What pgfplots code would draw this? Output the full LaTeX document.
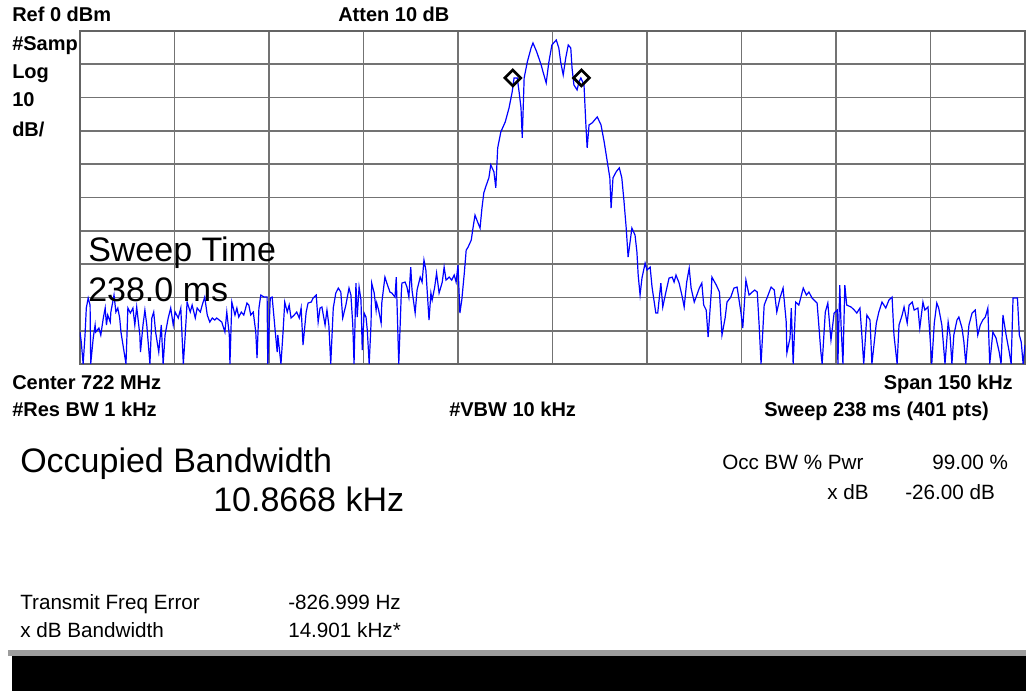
\documentclass[border=0pt]{standalone}
\usepackage{fontspec}
\setmainfont{Liberation Sans}
\usepackage{pgfplots}
\pgfplotsset{compat=1.18}
\definecolor{trace}{RGB}{0,0,255}
\definecolor{gridc}{RGB}{115,115,115}
\definecolor{framec}{RGB}{100,100,100}
\newcommand{\hbtxt}{\fontsize{15pt}{18pt}\selectfont\bfseries}
\newcommand{\smtxt}{\fontsize{15.5pt}{18pt}\selectfont}
\newcommand{\lgtxt}{\fontsize{25.5pt}{30pt}\selectfont}
\begin{document}
\begin{tikzpicture}
\useasboundingbox (0,0) rectangle (769.5pt,519.75pt);
\fill[white] (0,0) rectangle (769.5pt,519.75pt);
\begin{axis}[
  at={(60pt,246.75pt)}, anchor=south west,
  scale only axis, width=708.75pt, height=249.75pt,
  xmin=-75, xmax=75, ymin=-100, ymax=0,
  xtick={-75,-60,...,75}, ytick={-100,-90,...,0},
  xticklabels={}, yticklabels={},
  tick label style={opacity=0},
  major tick length=0pt,
  grid=major,
  grid style={line width=1.3pt, color=gridc},
  axis line style={line width=1.9pt, color=framec},
]
\addplot[trace, line width=0.9pt] coordinates {
(-75.0,-90.4) (-74.8,-93.4) (-74.5,-100) (-74.2,-91.3) (-74.0,-83.2) (-73.7,-80.2) (-73.4,-82.3) (-73.3,-100)
(-72.9,-92.2) (-72.6,-88.3) (-72.5,-90.4) (-72.0,-89.2) (-71.7,-91.3) (-71.3,-86.2) (-71.0,-83.2) (-70.8,-88.3)
(-70.6,-85.3) (-70.2,-87.4) (-70.1,-84.4) (-69.6,-79.3) (-69.3,-84.4) (-69.0,-83.2) (-68.7,-86.2) (-68.5,-90.4)
(-68.1,-95.2) (-67.7,-100) (-67.4,-83.2) (-67.0,-84.7) (-66.6,-83.2) (-66.3,-88.3) (-66.0,-82.9) (-65.5,-91.3)
(-65.4,-96.4) (-65.0,-88.3) (-64.7,-83.8) (-64.4,-88.3) (-63.9,-100) (-63.6,-86.2) (-63.3,-84.4) (-63.0,-90.4)
(-62.5,-96.4) (-62.1,-88.3) (-61.8,-100) (-61.5,-91.3) (-61.0,-86.2) (-60.6,-83.2) (-60.2,-88.3) (-59.9,-84.4)
(-59.4,-86.2) (-59.0,-83.2) (-58.6,-100) (-58.3,-91.3) (-58.0,-81.4) (-57.5,-84.4) (-57.2,-82.3) (-56.7,-86.2)
(-56.4,-83.2) (-55.9,-84.4) (-55.6,-82.3) (-55.2,-79.9) (-54.8,-85.3) (-54.4,-87.4) (-54.0,-86.2) (-53.6,-86.8)
(-53.3,-86.2) (-52.9,-86.8) (-52.5,-87.4) (-52.0,-90.4) (-51.7,-84.4) (-51.3,-91.3) (-51.2,-100) (-50.9,-81.4)
(-50.4,-85.3) (-50.1,-83.2) (-49.8,-85.9) (-49.4,-84.4) (-49.0,-85.3) (-48.5,-81.7) (-48.2,-82.3) (-47.9,-85.3)
(-47.5,-84.4) (-47.1,-90.4) (-46.9,-98.2) (-46.6,-83.2) (-46.3,-79.3) (-45.8,-79.9) (-45.3,-79.9) (-45.2,-100)
(-44.8,-80.2) (-44.5,-79.9) (-44.0,-90.4) (-43.7,-96.4) (-43.6,-91.3) (-43.1,-100) (-42.8,-91.3) (-42.5,-81.4)
(-42.1,-84.4) (-41.8,-82.3) (-41.5,-86.2) (-41.0,-85.3) (-40.6,-84.4) (-40.2,-86.2) (-39.9,-83.2) (-39.6,-94.3)
(-39.1,-84.4) (-38.8,-81.7) (-38.3,-81.4) (-38.0,-80.2) (-37.5,-79.3) (-37.2,-87.4) (-36.9,-83.2) (-36.6,-82.9)
(-36.1,-88.3) (-35.8,-83.8) (-35.5,-88.3) (-35.2,-100) (-34.8,-83.2) (-34.4,-78.7) (-34.0,-77.2) (-33.6,-78.4)
(-33.3,-86.2) (-32.8,-82.3) (-32.3,-77.2) (-32.0,-79.3) (-31.7,-88.3) (-31.5,-100) (-31.2,-75.7) (-31.0,-85.9)
(-30.7,-76.9) (-30.4,-80.8) (-30.2,-95.8) (-29.9,-84.7) (-29.6,-85.9) (-29.4,-89.8) (-29.1,-100) (-28.8,-87.7)
(-28.7,-75.7) (-28.3,-78.7) (-28.0,-83.8) (-27.9,-81.7) (-27.6,-83.8) (-27.2,-87.7) (-27.1,-81.7) (-26.6,-73.9)
(-26.3,-75.7) (-25.8,-78.4) (-25.5,-78.7) (-25.0,-79.9) (-24.8,-73.9) (-24.5,-93.7) (-24.4,-100) (-24.0,-78.7)
(-23.9,-75.7) (-23.4,-75.4) (-23.1,-76.9) (-22.8,-79.9) (-22.5,-70.9) (-22.3,-77.8) (-21.8,-84.7) (-21.5,-77.8)
(-21.0,-73.9) (-20.7,-75.4) (-20.4,-68.8) (-20.1,-71.8) (-19.6,-86.8) (-19.3,-78.7) (-19.1,-80.8) (-18.7,-76.9)
(-18.4,-72.7) (-18.0,-78.7) (-17.5,-75.4) (-17.2,-70.9) (-16.9,-74.8) (-16.4,-73.9) (-16.0,-74.8) (-15.6,-73.3)
(-15.3,-75.4) (-15.0,-70.3) (-14.7,-84.7) (-14.4,-80.8) (-14.0,-72.7) (-13.7,-65.8) (-13.4,-64.9) (-12.9,-62.8)
(-12.6,-58.9) (-12.3,-55.3) (-12.0,-56.8) (-11.5,-59.2) (-11.2,-53.2) (-10.9,-48.6) (-10.6,-46.8) (-10.1,-44.1)
(-9.8,-40.2) (-9.3,-42.3) (-9.0,-47.1) (-8.7,-35.1) (-8.2,-30.3) (-7.5,-27.3) (-6.9,-23.1) (-6.4,-18.3)
(-6.1,-14.1) (-5.6,-14.1) (-5.3,-18.3) (-5.0,-23.1) (-4.8,-32.1) (-4.5,-14.1) (-4.0,-9.3) (-3.4,-5.1)
(-3.1,-3.6) (-2.5,-6.3) (-1.8,-10.2) (-1.5,-12.3) (-1.0,-15.6) (-0.6,-9.6) (-0.1,-4.2) (0.6,-2.7)
(1.0,-5.1) (1.3,-9.3) (1.7,-13.2) (2.1,-8.1) (2.5,-4.2) (2.9,-5.1) (3.1,-11.1) (3.4,-16.2)
(3.9,-17.7) (4.2,-15.3) (4.5,-14.1) (5.0,-16.2) (5.3,-28.2) (5.5,-35.1) (5.8,-28.2) (6.3,-27.6)
(7.1,-25.8) (7.7,-28.2) (8.2,-33.3) (8.7,-39.3) (9.1,-44.1) (9.3,-53.2) (9.6,-44.1) (10.1,-42.3)
(10.6,-41.1) (11.0,-44.1) (11.3,-50.1) (11.7,-59.2) (12.0,-67.9) (12.6,-59.2) (13.1,-61.3) (13.4,-66.4)
(13.6,-73.3) (13.9,-79.3) (14.2,-74.2) (14.7,-69.7) (15.0,-71.8) (15.5,-70.9) (15.8,-76.9) (16.4,-84.7)
(16.7,-84.7) (17.2,-75.7) (17.5,-82.9) (18.0,-78.4) (18.5,-74.2) (19.0,-73.9) (19.3,-75.4) (19.6,-73.3)
(20.1,-75.7) (20.6,-79.9) (20.9,-82.9) (21.3,-75.4) (21.7,-71.2) (22.0,-77.2) (22.5,-81.4) (22.8,-79.9)
(23.3,-77.2) (23.7,-75.7) (24.0,-82.3) (24.4,-83.8) (24.7,-91.9) (25.2,-78.4) (25.3,-73.9) (26.0,-76.3)
(26.5,-78.4) (26.9,-91.3) (27.4,-86.2) (27.7,-81.4) (28.3,-79.9) (28.8,-77.2) (29.3,-76.9) (29.9,-84.4)
(30.2,-89.2) (30.7,-74.8) (31.2,-79.3) (31.7,-78.4) (32.1,-77.8) (32.5,-78.4) (32.8,-88.3) (33.1,-100)
(33.6,-82.3) (34.1,-79.9) (34.7,-76.9) (35.2,-77.8) (35.6,-84.4) (36.1,-80.2) (36.6,-77.2) (37.1,-87.4)
(37.2,-96.7) (37.7,-92.2) (37.9,-83.2) (38.2,-100) (38.6,-81.4) (39.1,-82.3) (39.8,-77.2) (40.3,-79.3)
(40.7,-78.4) (41.2,-80.2) (42.0,-81.7) (42.6,-96.4) (42.8,-100) (43.3,-84.4) (43.7,-81.7) (44.2,-92.8)
(44.7,-84.7) (45.2,-83.8) (45.3,-100) (45.6,-76.3) (45.8,-88.3) (46.1,-100) (46.4,-76.3) (46.7,-82.3)
(47.4,-82.9) (47.9,-83.8) (48.3,-84.7) (48.8,-83.2) (49.1,-91.3) (49.4,-100) (49.9,-85.3) (50.4,-86.8)
(50.7,-100) (51.4,-87.7) (51.8,-84.4) (52.3,-81.4) (52.9,-83.2) (53.4,-80.8) (53.9,-79.9) (54.2,-91.3)
(54.7,-100) (55.0,-88.3) (55.5,-85.3) (55.8,-82.9) (56.3,-87.7) (56.6,-82.3) (57.1,-81.4) (57.4,-83.8)
(58.0,-83.2) (58.3,-89.2) (58.8,-81.4) (59.1,-83.8) (59.6,-82.9) (59.9,-91.3) (60.2,-100) (60.6,-87.7)
(61.0,-81.7) (61.3,-83.2) (61.8,-88.3) (62.3,-100) (62.8,-87.4) (63.1,-91.3) (63.4,-100) (63.7,-91.3)
(64.2,-86.8) (64.5,-85.9) (65.0,-89.2) (65.3,-93.4) (65.6,-100) (66.1,-88.3) (66.6,-84.7) (67.1,-83.8)
(67.5,-91.3) (67.9,-88.3) (68.3,-86.8) (68.7,-85.9) (69.1,-83.2) (69.4,-100) (69.9,-90.4) (70.4,-92.2)
(70.9,-96.4) (71.2,-100) (71.5,-85.3) (72.0,-91.3) (72.5,-96.4) (72.8,-100) (73.1,-80.2) (73.8,-80.2)
(74.1,-91.3) (74.4,-93.4) (74.7,-100) (75.0,-94.3)
};
\addplot[only marks, mark=square, mark size=4.2pt, mark options={rotate=45, line width=2pt, draw=black}] coordinates {(-6.3,-14.1) (4.6,-14.1)};
\end{axis}
\begin{scope}[x=0.75pt, y=-0.75pt, shift={(0pt,519.75pt)}, every node/.style={inner sep=0pt, anchor=base west}]
\node at (12,22) {\hbtxt Ref 0 dBm};
\node at (338,22) {\hbtxt Atten 10 dB};
\node at (12,51) {\hbtxt \#Samp};
\node at (12,79) {\hbtxt Log};
\node at (12,107) {\hbtxt 10};
\node at (12,137) {\hbtxt dB/};
\node at (88,262) {\lgtxt Sweep Time};
\node at (88,302) {\lgtxt 238.0 ms};
\node at (12,390) {\hbtxt Center 722 MHz};
\node[anchor=base east] at (1013,390) {\hbtxt Span 150 kHz};
\node at (12,417) {\hbtxt \#Res BW 1 kHz};
\node at (449,417) {\hbtxt \#VBW 10 kHz};
\node at (764,417) {\hbtxt Sweep 238 ms (401 pts)};
\node at (20,473) {\lgtxt Occupied Bandwidth};
\node at (213,512) {\lgtxt 10.8668 kHz};
\node at (722,470) {\smtxt Occ BW \% Pwr};
\node at (932,470) {\smtxt 99.00 \%};
\node at (827,500) {\smtxt x dB};
\node at (905,500) {\smtxt -26.00 dB};
\node at (20,610) {\smtxt Transmit Freq Error};
\node at (288,610) {\smtxt -826.999 Hz};
\node at (20,638) {\smtxt x dB Bandwidth};
\node at (288,638) {\smtxt 14.901 kHz*};
\fill[gridc!70] (8,650) rectangle (1026,656);
\fill[black] (12,656) rectangle (1026,691);
\end{scope}
\end{tikzpicture}
\end{document}
